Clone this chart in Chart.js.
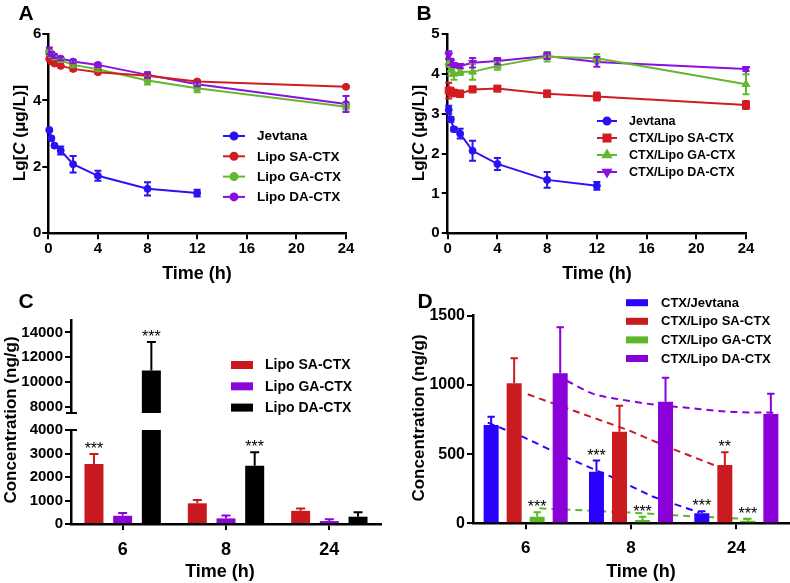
<!DOCTYPE html>
<html>
<head>
<meta charset="utf-8">
<script src="https://cdn.jsdelivr.net/npm/chart.js@4/dist/chart.umd.min.js"></script>
<style>
  body { margin: 0; background: #fff; }
  #wrap { position: relative; width: 790px; height: 583px; overflow: hidden; font-family: Arial, "Liberation Sans", sans-serif; }
  canvas { position: absolute; }
  .t { position: absolute; transform: translate(-50%, -50%); font-weight: bold; white-space: nowrap; line-height: 1; color: #000; }
  .r { transform: translate(-50%, -50%) rotate(-90deg); }
</style>
</head>
<body>
<div id="wrap">
  <canvas id="cA" width="395" height="290" style="left:0;top:0"></canvas>
  <canvas id="cB" width="395" height="290" style="left:395px;top:0"></canvas>
  <canvas id="cCtop" width="395" height="134" style="left:0;top:290px"></canvas>
  <canvas id="cCbot" width="395" height="168" style="left:0;top:415px"></canvas>
  <canvas id="cDtrend" width="395" height="293" style="left:395px;top:290px"></canvas>
  <canvas id="cD" width="395" height="293" style="left:395px;top:290px"></canvas>

  <div class="t" style="left:26px;top:12px;font-size:21px">A</div>
  <div class="t" style="left:424px;top:12px;font-size:21px">B</div>
  <div class="t" style="left:26px;top:300px;font-size:21px">C</div>
  <div class="t" style="left:425px;top:300px;font-size:21px">D</div>

  <div class="t r" style="left:19px;top:133px;font-size:17px">Lg[<i>C</i> (μg/L)]</div>
  <div class="t r" style="left:418px;top:133px;font-size:17px">Lg[<i>C</i> (μg/L)]</div>
  <div class="t r" style="left:10px;top:420px;font-size:17px">Concentration (ng/g)</div>
  <div class="t r" style="left:418px;top:418px;font-size:17px">Concentration (ng/g)</div>

  <div class="t" style="left:197px;top:273px;font-size:18px">Time (h)</div>
  <div class="t" style="left:597px;top:273px;font-size:18px">Time (h)</div>
  <div class="t" style="left:220px;top:571px;font-size:18px">Time (h)</div>
  <div class="t" style="left:641px;top:571px;font-size:18px">Time (h)</div>
</div>
<script>
// ---- data ----
const pkTimes = [0.083, 0.25, 0.5, 1, 2, 4, 8, 12, 24];
const timeTicks = [0, 4, 8, 12, 16, 20, 24];

// panel A
const seriesA = ['Jevtana', 'Lipo SA-CTX', 'Lipo GA-CTX', 'Lipo DA-CTX'];
const aYTicks = [0, 2, 4, 6];
const jevA = [3.11, 2.86, 2.64, 2.49, 2.08, 1.73, 1.34, 1.21];
const jevAErr = [0.04, 0.05, 0.05, 0.12, 0.25, 0.15, 0.2, 0.1];
const saA = [5.25, 5.17, 5.11, 5.04, 4.95, 4.85, 4.74, 4.57, 4.41];
const saAErr = [0.05, 0.05, 0.04, 0.04, 0.06, 0.05, 0.05, 0.04, 0.03];
const gaA = [5.44, 5.36, 5.29, 5.21, 5.07, 4.94, 4.6, 4.37, 3.81];
const gaAErr = [0.07, 0.05, 0.05, 0.05, 0.07, 0.06, 0.12, 0.12, 0.08];
const daA = [5.49, 5.4, 5.33, 5.26, 5.17, 5.07, 4.77, 4.49, 3.89];
const daAErr = [0.1, 0.06, 0.05, 0.05, 0.05, 0.06, 0.08, 0.06, 0.24];

// panel B
const seriesB = ['Jevtana', 'CTX/Lipo SA-CTX', 'CTX/Lipo GA-CTX', 'CTX/Lipo DA-CTX'];
const bYTicks = [0, 1, 2, 3, 4, 5];
const jevB = [3.1, 2.86, 2.61, 2.5, 2.07, 1.74, 1.34, 1.19];
const jevBErr = [0.1, 0.06, 0.05, 0.12, 0.25, 0.15, 0.2, 0.1];
const saB = [3.58, 3.55, 3.52, 3.5, 3.61, 3.63, 3.5, 3.43, 3.22];
const saBErr = [0.2, 0.1, 0.08, 0.08, 0.05, 0.05, 0.08, 0.1, 0.1];
const gaB = [4.28, 4.1, 4.0, 4.05, 4.05, 4.2, 4.43, 4.39, 3.74];
const gaBErr = [0.1, 0.15, 0.15, 0.08, 0.2, 0.1, 0.12, 0.1, 0.25];
const daB = [4.47, 4.3, 4.22, 4.2, 4.28, 4.32, 4.45, 4.3, 4.12];
const daBErr = [0.1, 0.08, 0.05, 0.05, 0.12, 0.08, 0.08, 0.12, 0.05];

// panel C (broken axis)
const cLabels = ['6', '8', '24'];
const seriesC = ['Lipo SA-CTX', 'Lipo GA-CTX', 'Lipo DA-CTX'];
const cTopTicks = [8000, 10000, 12000, 14000];
const cBotTicks = [0, 1000, 2000, 3000, 4000];
const saC = [2550, 880, 560];
const saCErr = [430, 140, 100];
const saCStars = ['***', '', ''];
const gaC = [350, 240, 125];
const gaCErr = [120, 120, 75];
const daC = [10920, 2480, 310];
const daCErr = [2300, 570, 185];
const daCStars = ['***', '***', ''];

// panel D
const dLabels = ['6', '8', '24'];
const seriesD = ['CTX/Jevtana', 'CTX/Lipo SA-CTX', 'CTX/Lipo GA-CTX', 'CTX/Lipo DA-CTX'];
const dYTicks = [0, 500, 1000, 1500];
const jevD = [710, 373, 72];
const jevDErr = [60, 80, 15];
const jevDStars = ['', '***', '***'];
const saD = [1012, 662, 421];
const saDErr = [180, 188, 92];
const saDStars = ['', '', '**'];
const gaD = [48, 24, 19];
const gaDErr = [32, 24, 14];
const gaDStars = ['***', '***', '***'];
const daD = [1084, 879, 790];
const daDErr = [332, 173, 146];
// dashed trend lines (x in category units, 0 = "6")
const jevTrendX = [-0.36, -0.03, 0.37, 0.81, 1.21, 1.65];
const jevTrendY = [727, 626, 481, 337, 192, 77];
const saTrendX = [0.02, 0.97, 1.38, 1.81];
const saTrendY = [932, 674, 542, 414];
const gaTrendX = [0.13, 1.0, 1.53, 2.16];
const gaTrendY = [108, 77, 53, 29];
const daTrendX = [0.39, 0.63, 0.97, 1.25, 1.53, 1.94, 2.4];
const daTrendY = [1030, 939, 886, 855, 835, 806, 799];

// ---- styling ----
const FONT = 'Arial, "Liberation Sans", sans-serif';
const BLUE = '#2a12f2', RED = '#d11c22', GREEN = '#63b82e', PURPLE = '#8a10e0';
const C_RED = '#c9191f', C_PURPLE = '#8a06d8', C_BLACK = '#000000';
const D_BLUE = '#2b00ff', D_RED = '#c91b20', D_GREEN = '#5cb82a', D_PURPLE = '#8a00d8';

Chart.defaults.font.family = FONT;
Chart.defaults.color = '#000';
Chart.defaults.animation = false;

// error bars + significance stars
const whiskers = {
  id: 'whiskers',
  defaults: { cap: 3.5, both: false, width: 2, starFont: '16px ' + FONT },
  afterDatasetsDraw(chart, args, o) {
    const ctx = chart.ctx, a = chart.chartArea;
    ctx.save();
    ctx.beginPath();
    ctx.rect(a.left - 8, a.top - 1, a.right - a.left + 16, a.bottom - a.top + 1);
    ctx.clip();
    chart.data.datasets.forEach((ds, i) => {
      if (!ds.errors) return;
      const meta = chart.getDatasetMeta(i);
      const ys = chart.scales[meta.yAxisID];
      meta.data.forEach((el, j) => {
        const raw = ds.data[j];
        const v = typeof raw === 'object' ? raw.y : raw;
        const e = ds.errors[j] || 0;
        const top = ys.getPixelForValue(v + e);
        const bot = o.both ? ys.getPixelForValue(v - e) : el.y;
        if (e) {
          ctx.strokeStyle = ds.borderColor;
          ctx.lineWidth = o.width;
          ctx.beginPath();
          ctx.moveTo(el.x, bot); ctx.lineTo(el.x, top);
          ctx.moveTo(el.x - o.cap, top); ctx.lineTo(el.x + o.cap, top);
          if (o.both) { ctx.moveTo(el.x - o.cap, bot); ctx.lineTo(el.x + o.cap, bot); }
          ctx.stroke();
        }
        if (ds.stars && ds.stars[j]) {
          ctx.fillStyle = '#000';
          ctx.font = o.starFont;
          ctx.textAlign = 'center';
          ctx.textBaseline = 'alphabetic';
          ctx.fillText(ds.stars[j], el.x, top);
        }
      });
    });
    ctx.restore();
  }
};

// legend drawn inside the plot
const key = {
  id: 'key',
  afterDraw(chart, args, o) {
    if (!o.items) return;
    const ctx = chart.ctx;
    ctx.save();
    ctx.font = o.textFont;
    ctx.textBaseline = 'middle';
    ctx.textAlign = 'left';
    o.items.forEach((k, i) => {
      const ds = chart.data.datasets[k];
      const y = o.y + i * o.rowH;
      if (o.kind === 'box') {
        ctx.fillStyle = ds.backgroundColor;
        ctx.fillRect(o.x, y - o.boxH / 2, o.w, o.boxH);
      } else {
        ctx.strokeStyle = ds.borderColor;
        ctx.lineWidth = 2;
        ctx.beginPath(); ctx.moveTo(o.x, y); ctx.lineTo(o.x + o.w, y); ctx.stroke();
        ctx.fillStyle = ds.backgroundColor;
        Chart.helpers.drawPoint(ctx, { pointStyle: ds.pointStyle, rotation: ds.pointRotation || 0,
          radius: ds.pointRadius, borderWidth: 1 }, o.x + o.w / 2, y);
      }
      ctx.fillStyle = '#000';
      ctx.fillText(ds.label, o.textX, y + 0.5);
    });
    ctx.restore();
  }
};

// axis-break marks
const breakMark = {
  id: 'breakMark',
  afterDraw(chart, args, o) {
    if (!o.edge) return;
    const ctx = chart.ctx, a = chart.chartArea;
    const y = o.edge === 'bottom' ? a.bottom : a.top;
    ctx.save();
    ctx.strokeStyle = '#000';
    ctx.lineWidth = 2;
    ctx.beginPath(); ctx.moveTo(a.left - 5, y); ctx.lineTo(a.left + 6, y); ctx.stroke();
    ctx.restore();
  }
};

Chart.register(whiskers, key, breakMark);

function pts(xs, ys) { return ys.map((y, i) => ({ x: xs[i], y })); }

function numAxis(min, max, ticks, size, pad, extra) {
  return Object.assign({
    type: 'linear', min, max,
    afterBuildTicks: s => { s.ticks = ticks.map(v => ({ value: v })); },
    ticks: { font: { family: FONT, size, weight: 'bold' }, color: '#000', padding: pad,
      callback: v => String(v), autoSkip: false, maxRotation: 0 },
    grid: { drawOnChartArea: false, color: '#000', lineWidth: 2, tickLength: 6 },
    border: { color: '#000', width: 2.5 }
  }, extra);
}

function catAxis(size, pad, height) {
  return {
    type: 'category', offset: true,
    ticks: { font: { family: FONT, size, weight: 'bold' }, color: '#000', padding: pad, maxRotation: 0 },
    grid: { offset: false, drawOnChartArea: false, color: '#000', lineWidth: 2, tickLength: 6 },
    border: { color: '#000', width: 2.5 },
    afterFit: s => { s.height = height; }
  };
}

function lineSet(label, ys, errs, color, style, radius, rotation) {
  return { label, data: pts(pkTimes, ys), errors: errs, borderColor: color, backgroundColor: color,
    borderWidth: 2, pointStyle: style, pointRadius: radius, pointRotation: rotation || 0,
    pointBorderWidth: 1, tension: 0, clip: false };
}

function barSet(label, ys, errs, stars, color) {
  return { label, data: ys, errors: errs, stars, backgroundColor: color, borderColor: color,
    borderWidth: 0, clip: 0 };
}

function trendSet(xs, ys, color, smooth) {
  return { data: pts(xs, ys), borderColor: color, borderWidth: 2,
    borderDash: [7, 5], pointRadius: 0, fill: false, tension: 0,
    cubicInterpolationMode: smooth ? 'monotone' : 'default' };
}

const base = { responsive: false, devicePixelRatio: 1, events: [] };
const noLegend = { legend: { display: false }, tooltip: { enabled: false } };

// ---- A ----
new Chart(document.getElementById('cA'), {
  type: 'line',
  data: { datasets: [
    lineSet(seriesA[0], jevA, jevAErr, BLUE, 'circle', 3.5),
    lineSet(seriesA[1], saA, saAErr, RED, 'circle', 3.5),
    lineSet(seriesA[2], gaA, gaAErr, GREEN, 'circle', 3.5),
    lineSet(seriesA[3], daA, daAErr, PURPLE, 'circle', 3.5)
  ] },
  options: Object.assign({}, base, {
    layout: { padding: { top: 34, right: 49, bottom: 26.7, left: 0 } },
    plugins: Object.assign({}, noLegend, {
      whiskers: { both: true, cap: 3.5 },
      key: { items: [0, 1, 2, 3], kind: 'line', x: 223, w: 22, textX: 257, y: 136, rowH: 20.3,
        textFont: 'bold 13.5px ' + FONT }
    }),
    scales: {
      x: numAxis(0, 24, timeTicks, 15, 1, { afterFit: s => { s.height = 30; } }),
      y: numAxis(0, 6, aYTicks, 15, 1, { afterFit: s => { s.width = 48.3; } })
    }
  })
});

// ---- B ----
new Chart(document.getElementById('cB'), {
  type: 'line',
  data: { datasets: [
    lineSet(seriesB[0], jevB, jevBErr, BLUE, 'circle', 3.5),
    lineSet(seriesB[1], saB, saBErr, RED, 'rect', 5),
    lineSet(seriesB[2], gaB, gaBErr, GREEN, 'triangle', 4.5),
    lineSet(seriesB[3], daB, daBErr, PURPLE, 'triangle', 4.5, 180)
  ] },
  options: Object.assign({}, base, {
    layout: { padding: { top: 34, right: 44, bottom: 26.7, left: 0 } },
    plugins: Object.assign({}, noLegend, {
      whiskers: { both: true, cap: 3.5 },
      key: { items: [0, 1, 2, 3], kind: 'line', x: 202, w: 20, textX: 234, y: 121, rowH: 17,
        textFont: 'bold 12.5px ' + FONT }
    }),
    scales: {
      x: numAxis(0, 24, timeTicks, 15, 1, { afterFit: s => { s.height = 30; } }),
      y: numAxis(0, 5, bYTicks, 15, 2, { afterFit: s => { s.width = 52.7; } })
    }
  })
});

// ---- C (two stacked charts for the broken axis) ----
function cSets() {
  return [
    barSet(seriesC[0], saC, saCErr, saCStars, C_RED),
    barSet(seriesC[1], gaC, gaCErr, null, C_PURPLE),
    barSet(seriesC[2], daC, daCErr, daCStars, C_BLACK)
  ];
}
const cBars = { bar: { categoryPercentage: 0.833, barPercentage: 0.662 } };

new Chart(document.getElementById('cCtop'), {
  type: 'bar',
  data: { labels: cLabels, datasets: cSets() },
  options: Object.assign({}, base, {
    datasets: cBars,
    layout: { padding: { top: 30, right: 14, bottom: 10.7, left: 0 } },
    plugins: Object.assign({}, noLegend, {
      whiskers: { cap: 4.5 },
      breakMark: { edge: 'bottom' },
      key: { items: [0, 1, 2], kind: 'box', x: 231, w: 22, boxH: 8, textX: 265, y: 75, rowH: 21.3,
        textFont: 'bold 14px ' + FONT }
    }),
    scales: {
      x: { type: 'category', display: false, offset: true },
      y: numAxis(7500, 15000, cTopTicks, 15, 2, { afterFit: s => { s.width = 71; } })
    }
  })
});

new Chart(document.getElementById('cCbot'), {
  type: 'bar',
  data: { labels: cLabels, datasets: cSets() },
  options: Object.assign({}, base, {
    datasets: cBars,
    layout: { padding: { top: 15, right: 14, bottom: 19, left: 0 } },
    plugins: Object.assign({}, noLegend, {
      whiskers: { cap: 4.5 },
      breakMark: { edge: 'top' }
    }),
    scales: {
      x: catAxis(18, 9, 40),
      y: numAxis(0, 4000, cBotTicks, 15, 2, { afterFit: s => { s.width = 71; } })
    }
  })
});

// ---- D: dashed trend lines on a layer under the bars ----
new Chart(document.getElementById('cDtrend'), {
  type: 'line',
  data: { datasets: [
    trendSet(jevTrendX, jevTrendY, D_BLUE),
    trendSet(saTrendX, saTrendY, D_RED),
    trendSet(gaTrendX, gaTrendY, D_GREEN),
    trendSet(daTrendX, daTrendY, D_PURPLE, true)
  ] },
  options: Object.assign({}, base, {
    layout: { padding: { top: 25.7, right: 1, bottom: 59.7, left: 78 } },
    plugins: noLegend,
    scales: {
      x: { type: 'linear', min: -0.5, max: 2.5, display: false },
      y: { type: 'linear', min: 0, max: 1500, display: false }
    }
  })
});

new Chart(document.getElementById('cD'), {
  type: 'bar',
  data: { labels: dLabels, datasets: [
    barSet(seriesD[0], jevD, jevDErr, jevDStars, D_BLUE),
    barSet(seriesD[1], saD, saDErr, saDStars, D_RED),
    barSet(seriesD[2], gaD, gaDErr, gaDStars, D_GREEN),
    barSet(seriesD[3], daD, daDErr, null, D_PURPLE)
  ] },
  options: Object.assign({}, base, {
    datasets: { bar: { categoryPercentage: 0.874, barPercentage: 0.652 } },
    layout: { padding: { top: 25.7, right: 1, bottom: 19.7, left: 0 } },
    plugins: Object.assign({}, noLegend, {
      whiskers: { cap: 3.7 },
      key: { items: [0, 1, 2, 3], kind: 'box', x: 231, w: 22, boxH: 7, textX: 266, y: 12.7, rowH: 18.6,
        textFont: 'bold 13px ' + FONT }
    }),
    scales: {
      x: catAxis(17, 9, 40),
      y: numAxis(0, 1500, dYTicks, 16, 2, { afterFit: s => { s.width = 78; } })
    }
  })
});
</script>
</body>
</html>
